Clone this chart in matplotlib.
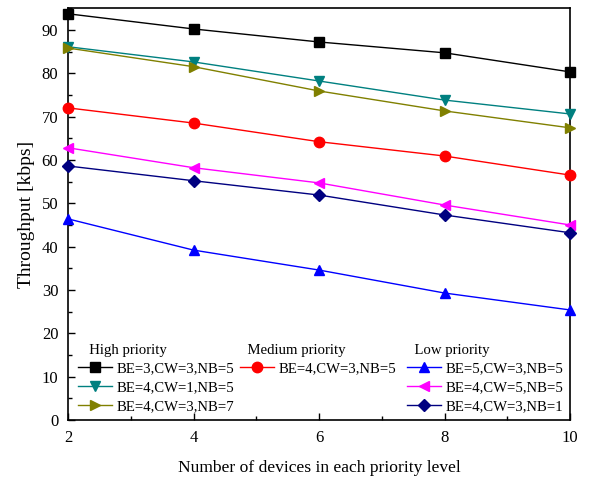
import numpy as np
import matplotlib.pyplot as plt
from matplotlib.ticker import MultipleLocator

plt.rcParams["font.family"] = ["Liberation Serif", "DejaVu Serif"]

devices = [2, 4, 6, 8, 10]

high_labels = ["BE=3,CW=3,NB=5", "BE=4,CW=1,NB=5", "BE=4,CW=3,NB=7"]
high_values = [
    [93.7, 90.2, 87.2, 84.7, 80.3],
    [86.1, 82.6, 78.2, 73.8, 70.6],
    [85.8, 81.5, 75.9, 71.3, 67.4],
]
medium_labels = ["BE=4,CW=3,NB=5"]
medium_values = [
    [72.0, 68.5, 64.2, 60.9, 56.5],
]
low_labels = ["BE=5,CW=3,NB=5", "BE=4,CW=5,NB=5", "BE=4,CW=3,NB=1"]
low_values = [
    [46.4, 39.2, 34.6, 29.3, 25.4],
    [62.8, 58.2, 54.7, 49.6, 45.0],
    [58.6, 55.2, 51.9, 47.3, 43.2],
]

high_style = [("black", "s"), ("#008080", "v"), ("#808000", ">")]
medium_style = [("red", "o")]
low_style = [("blue", "^"), ("magenta", "<"), ("#000080", "D")]

fig = plt.figure(figsize=(5.95, 4.79), dpi=100)
ax = fig.add_axes([0.1143, 0.123, 0.8437, 0.860])

def draw(labels, values, styles):
    lines = []
    for lab, vals, (c, m) in zip(labels, values, styles):
        ms = 6 if m == "D" else 7.5
        ln, = ax.plot(devices, vals, color=c, marker=m, markersize=ms,
                      linewidth=1, label=lab, clip_on=False, zorder=3)
        lines.append(ln)
    return lines

h = draw(high_labels, high_values, high_style)
m = draw(medium_labels, medium_values, medium_style)
l = draw(low_labels, low_values, low_style)

ax.set_xlim(2, 10)
ax.set_ylim(0, 95)
ax.xaxis.set_major_locator(MultipleLocator(2))
ax.xaxis.set_minor_locator(MultipleLocator(1))
ax.yaxis.set_major_locator(MultipleLocator(10))
ax.yaxis.set_minor_locator(MultipleLocator(5))
ax.tick_params(which="both", direction="in", labelsize=12)
ax.tick_params(which="major", length=5, width=1, pad=7)
ax.tick_params(which="minor", length=3, width=1)
for s in ax.spines.values():
    s.set_linewidth(1.2)

ax.set_xlabel("Number of devices in each priority level", fontsize=12.6, labelpad=10)
ax.set_ylabel("Throughput [kbps]", fontsize=14, labelpad=5)

leg_kw = dict(frameon=False, fontsize=10.6, title_fontsize=10.6, handlelength=2.3,
              handletextpad=0.3, labelspacing=0.36, borderaxespad=0, borderpad=0,
              alignment="left")
leg1 = ax.legend(handles=h, title="   High priority", loc="upper left",
                 bbox_to_anchor=(0.02, 0.185), **leg_kw)
ax.add_artist(leg1)
leg2 = ax.legend(handles=m, title="  Medium priority", loc="upper left",
                 bbox_to_anchor=(0.343, 0.185), **leg_kw)
ax.add_artist(leg2)
leg3 = ax.legend(handles=l, title="  Low priority", loc="upper left",
                 bbox_to_anchor=(0.675, 0.185), **leg_kw)

fig.savefig("out.png", dpi=100)
